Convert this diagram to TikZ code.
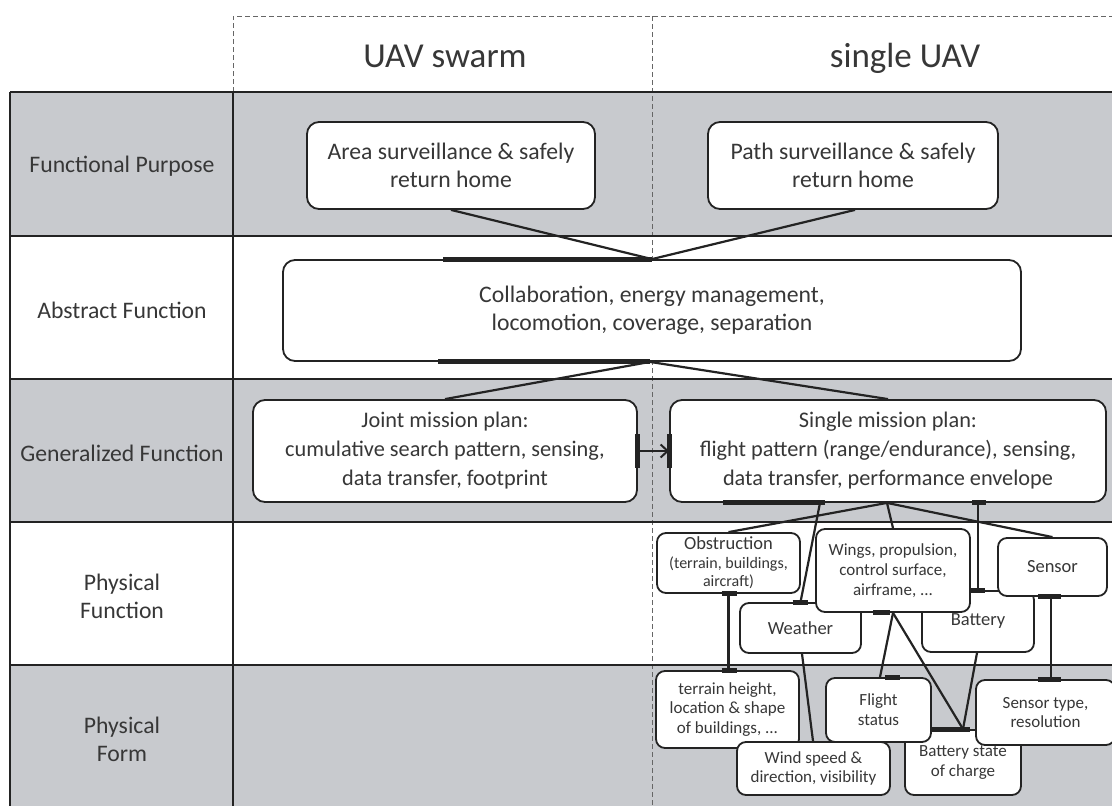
\documentclass[tikz,border=0pt]{standalone}
\usepackage{fontspec}
\setmainfont{Carlito}
\usetikzlibrary{arrows.meta,calc}
\pgfdeclarelayer{tablelayer}
\pgfdeclarelayer{wires}
\pgfsetlayers{tablelayer,wires,main}
\definecolor{rowgray}{RGB}{200,202,206}
\definecolor{ink}{RGB}{35,35,35}
\definecolor{txt}{RGB}{55,55,55}
\newcommand{\hdrfont}{\fontsize{35}{40}\selectfont}
\newcommand{\lblfont}{\fontsize{23.7}{28}\selectfont}
\newcommand{\topboxfont}{\fontsize{23.7}{28}\selectfont}
\newcommand{\bigboxfont}{\fontsize{22.3}{29}\selectfont}
\newcommand{\midboxfont}{\fontsize{18.5}{20}\selectfont}
\newcommand{\smallboxfont}{\fontsize{17}{19.8}\selectfont}
\newcommand{\tinyboxfont}{\fontsize{16}{19}\selectfont}
\begin{document}
\begin{tikzpicture}[x=1pt,y=-1pt,
  box/.style={draw=ink, line width=1.8pt, fill=white, rounded corners=12pt,
              align=center, text=txt, inner sep=0pt},
  sbox/.style={box, rounded corners=9pt},
  rowline/.style={draw=ink, line width=2.4pt},
  hdrdash/.style={draw=black!60, line width=1pt, dash pattern=on 5pt off 3pt},
  conn/.style={draw=ink, line width=2.2pt},
  tbar/.style={draw=ink, line width=5pt},
  lbl/.style={align=center, text=txt, font=\lblfont},
  hdr/.style={text=txt, font=\hdrfont, anchor=base}
]
\useasboundingbox (0,0) rectangle (1112,806);
\clip (0,0) rectangle (1112,806);

\begin{pgfonlayer}{tablelayer}
% ---- table background ----
\fill[rowgray] (10,92) rectangle (1112,236);
\fill[rowgray] (10,379) rectangle (1112,522);
\fill[rowgray] (10,665) rectangle (1112,806);
% ---- header frame and column split ----
\draw[hdrdash] (233,92) -- (233,16) -- (1112,16);
\draw[hdrdash] (652,16) -- (652,806);
% ---- table rules ----
\foreach \yy in {92,236,379,522,665} \draw[rowline] (10,\yy) -- (1112,\yy);
\draw[rowline] (10,92) -- (10,806);
\draw[rowline] (233,92) -- (233,806);
\end{pgfonlayer}

\node[hdr] (hswarm) at (445,67) {UAV swarm};
\node[hdr] (hsingle) at (905,67) {single UAV};

% ---- row labels ----
\node[lbl] (lfp) at (122,166) {Functional Purpose};
\node[lbl] (laf) at (122,310) {Abstract Function};
\node[lbl] (lgf) at (122,453) {Generalized Function};
\node[lbl] (lpf) at (122,596) {Physical\\Function};
\node[lbl] (lpo) at (122,739) {Physical\\Form};

% ---- upper levels ----
\node[box, font=\topboxfont, minimum width=288pt, minimum height=87pt] (area) at (451,165.5)
  {Area surveillance \& safely\\return home};
\node[box, font=\topboxfont, minimum width=290pt, minimum height=87pt] (path) at (853,165.5)
  {Path surveillance \& safely\\return home};
\node[box, font=\topboxfont, minimum width=738pt, minimum height=101pt] (abst) at (652,310.5)
  {Collaboration, energy management,\\locomotion, coverage, separation};
\node[box, font=\bigboxfont, minimum width=384pt, minimum height=102pt] (joint) at (445,451)
  {Joint mission plan:\\cumulative search pattern, sensing,\\data transfer, footprint};
\node[box, font=\bigboxfont, minimum width=436pt, minimum height=102pt] (single) at (888,451)
  {Single mission plan:\\flight pattern (range/endurance), sensing,\\data transfer, performance envelope};

% ---- physical function boxes ----
\node[sbox, font=\midboxfont, minimum width=112pt, minimum height=61pt] (battery) at (978,621.5) {Battery};
\node[sbox, font=\midboxfont, minimum width=121pt, minimum height=50pt] (weather) at (800.5,628) {Weather};
\node[sbox, font=\tinyboxfont, minimum width=143pt, minimum height=60pt] (obst) at (728.5,563)
  {{\midboxfont Obstruction}\\(terrain, buildings,\\[-1pt]aircraft)};
\node[sbox, font=\smallboxfont, minimum width=154pt, minimum height=83pt] (wings) at (893,570.5)
  {Wings, propulsion,\\control surface,\\airframe, ...};
\node[sbox, font=\midboxfont, minimum width=109pt, minimum height=58pt] (sensor) at (1052.5,567) {Sensor};

% ---- physical form boxes ----
\node[sbox, font=\smallboxfont, minimum width=116pt, minimum height=65pt] (batstate) at (963,762.5)
  {Battery state\\of charge};
\node[sbox, font=\smallboxfont, minimum width=143pt, minimum height=77pt] (terrain) at (727.5,709.5)
  {terrain height,\\location \& shape\\of buildings, ...};
\node[sbox, font=\smallboxfont, minimum width=153pt, minimum height=53pt] (wind) at (813.5,768.5)
  {Wind speed \&\\direction, visibility};
\node[sbox, font=\smallboxfont, minimum width=105pt, minimum height=64pt] (flight) at (878.5,710)
  {Flight\\status};
\node[sbox, font=\smallboxfont, minimum width=139pt, minimum height=65pt] (senstype) at (1045.5,712.5)
  {Sensor type,\\resolution};

\begin{pgfonlayer}{wires}
% ---- connectors between upper levels ----
\draw[conn] (area.south) -- (abst.north);
\draw[conn] ([xshift=2pt]path.south) -- (abst.north);
\draw[conn] ([xshift=-2pt]abst.south) -- (joint.north);
\draw[conn] ([xshift=-2pt]abst.south) -- (single.north);
% ---- connectors from the single mission plan down ----
\draw[conn] ([xshift=-68pt]single.south) -- (weather.north);
\draw[conn] ([xshift=-1pt]single.south) -- (obst.north);
\draw[conn] ([xshift=-1pt]single.south) -- (wings.north);
\draw[conn] ([xshift=-1pt]single.south) -- (sensor.north);
\draw[conn] ([xshift=90pt]single.south) -- (battery.north);
% ---- physical function / physical form links ----
\draw[conn] (obst.south) -- (obst.south |- terrain.north);
\draw[conn] ([xshift=1.5pt]weather.south) -- ([xshift=-0.5pt]wind.north);
\draw[conn] (wings.south) -- ([xshift=1.5pt]flight.north);
\draw[conn] (wings.south) -- (batstate.north);
\draw[conn] ([xshift=-1pt]battery.south) -- (batstate.north);
\draw[conn] ([xshift=-1.5pt]sensor.south) -- ([xshift=-1.5pt]sensor.south |- senstype.north);
\end{pgfonlayer}

\draw[ink, line width=2pt, -{Straight Barb[length=7pt,width=13pt,line width=2pt]}]
  (joint.east) -- (single.west);

% ---- thick attachment marks ----
\draw[tbar] ([xshift=-209pt]abst.north) -- (abst.north);
\draw[tbar] ([xshift=-214pt]abst.south) -- ([xshift=-2pt]abst.south);
\draw[tbar] ([yshift=17pt]joint.east) -- ([yshift=-17pt]joint.east);
\draw[tbar] ([yshift=17pt]single.west) -- ([yshift=-17pt]single.west);
\draw[tbar] ([xshift=-165pt]single.south) -- ([xshift=-63pt]single.south);
\draw[tbar] ([xshift=84pt]single.south) -- ([xshift=98pt]single.south);
\draw[tbar] ([xshift=-8pt]weather.north) -- ([xshift=7pt]weather.north);
\draw[tbar] ([xshift=-7pt]battery.north) -- ([xshift=7pt]battery.north);
\draw[tbar] ([xshift=-7pt]obst.south) -- ([xshift=8pt]obst.south);
\draw[tbar] ([xshift=-6pt]terrain.north) -- ([xshift=9pt]terrain.north);
\draw[tbar] ([xshift=-20pt]wings.south) -- ([xshift=-3pt]wings.south);
\draw[tbar] ([xshift=6.5pt]flight.north) -- ([xshift=21.5pt]flight.north);
\draw[tbar] ([xshift=-31pt]batstate.north) -- ([xshift=7pt]batstate.north);
\draw[tbar] ([xshift=-14.5pt]sensor.south) -- ([xshift=8.5pt]sensor.south);
\draw[tbar] ([xshift=-7.5pt]senstype.north) -- ([xshift=15.5pt]senstype.north);
\end{tikzpicture}
\end{document}
